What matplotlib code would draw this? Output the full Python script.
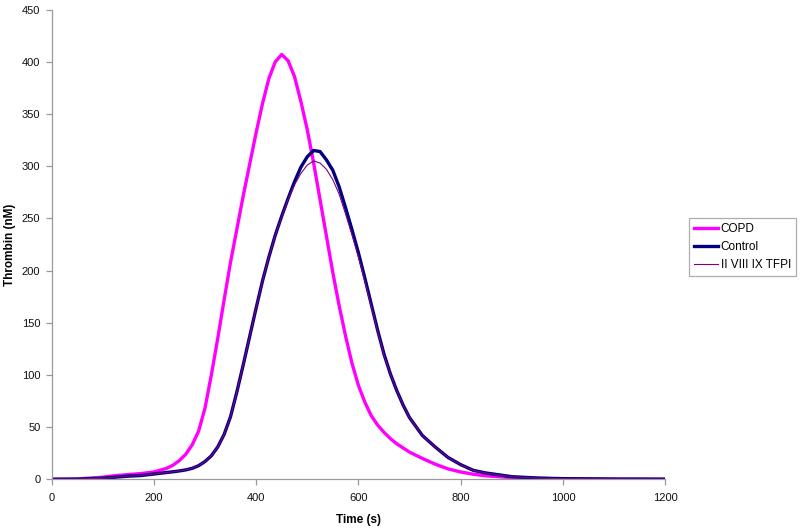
import matplotlib.pyplot as plt

plt.rcParams['font.family'] = ['Liberation Sans', 'DejaVu Sans']

# ------------------------------
# data
# ------------------------------
time_s = [0, 50, 100, 125, 150, 175, 200, 225, 237.5, 250, 262.5, 275,
          287.5, 300, 312.5, 325, 337.5, 350, 362.5, 375, 387.5, 400,
          412.5, 425, 437.5, 450, 462.5, 475, 487.5, 500, 512.5, 525,
          537.5, 550, 562.5, 575, 587.5, 600, 612.5, 625, 637.5, 650,
          662.5, 675, 687.5, 700, 725, 750, 775, 800, 825, 850, 900,
          950, 1000, 1100, 1200]

copd = [0, 0.3, 2, 3.5, 4.5, 5.5, 7, 10.5, 13.5, 18, 24, 33,
        46, 68, 100, 135, 172, 208, 240, 272, 302, 332,
        360, 384, 400, 407, 401, 386, 362, 335, 303, 268,
        233, 198, 166, 137, 111, 90, 74, 61, 52, 45,
        39, 34, 30, 26, 20, 14.5, 10, 7, 4.8, 3.3, 1.6,
        0.8, 0.4, 0.15, 0.05]

control = [0, 0.1, 1, 2, 3, 3.6, 5, 6.5, 7.2, 8, 9, 10.5,
           13, 17, 22.5, 31, 43, 60, 84, 110, 137, 164,
           190, 213, 234, 252, 269, 285, 299, 309, 315, 314,
           306, 296, 280, 260, 239, 217, 193, 168, 143, 120,
           101, 85, 71, 59, 42, 31, 21, 14, 8.5, 6, 2.5,
           1.2, 0.6, 0.2, 0.1]

tfpi = [0, 0.1, 1, 2, 3, 3.6, 5, 6.5, 7.2, 8, 9, 10.5,
        13, 17, 22.5, 31, 43, 60, 84, 110, 137, 164,
        190, 213, 234, 251, 268, 282, 293, 301, 305, 303,
        297, 287, 273, 254, 234, 213, 190, 166, 142, 119,
        101, 85, 71, 59, 42, 31, 21, 14, 8.5, 6, 2.5,
        1.2, 0.6, 0.2, 0.1]

labels = ["COPD", "Control", "II VIII IX TFPI"]
x_ticks = [0, 200, 400, 600, 800, 1000, 1200]
y_ticks = [0, 50, 100, 150, 200, 250, 300, 350, 400, 450]

# ------------------------------
# plot
# ------------------------------
fig = plt.figure(figsize=(8, 5.3), dpi=100)
ax = fig.add_axes([0.0644, 0.0957, 0.7672, 0.8862])

ax.plot(time_s, copd, color="#ff00ff", lw=2.4, label=labels[0], solid_joinstyle="round")
ax.plot(time_s, control, color="#000080", lw=2.4, label=labels[1], solid_joinstyle="round")
ax.plot(time_s, tfpi, color="#800080", lw=0.8, label=labels[2])

ax.set_xlim(0, 1200)
ax.set_ylim(0, 450)
ax.set_xticks(x_ticks)
ax.set_yticks(y_ticks)

for side in ["top", "right"]:
    ax.spines[side].set_visible(False)
for side in ["left", "bottom"]:
    ax.spines[side].set_color("#9a9a9a")
    ax.spines[side].set_linewidth(0.9)

ax.tick_params(axis="both", direction="out", length=4, width=0.9,
               color="#9a9a9a", labelsize=8, labelcolor="#111111")
ax.tick_params(axis="x", pad=6)
ax.tick_params(axis="y", pad=4)

ax.set_xlabel("Time (s)", fontsize=8.5, weight="bold", labelpad=8)
ax.set_ylabel("Thrombin (nM)", fontsize=8.5, weight="bold", labelpad=4)

leg = ax.legend(loc="upper left", bbox_to_anchor=(0.861, 0.589),
                bbox_transform=fig.transFigure, fontsize=8.5,
                fancybox=False, frameon=True, handlelength=2.0,
                handletextpad=0.25, labelspacing=0.5, borderpad=0.45,
                borderaxespad=0)
leg.get_frame().set_edgecolor("#9a9a9a")
leg.get_frame().set_linewidth(0.9)

plt.savefig("out.png", dpi=100)
plt.close()
